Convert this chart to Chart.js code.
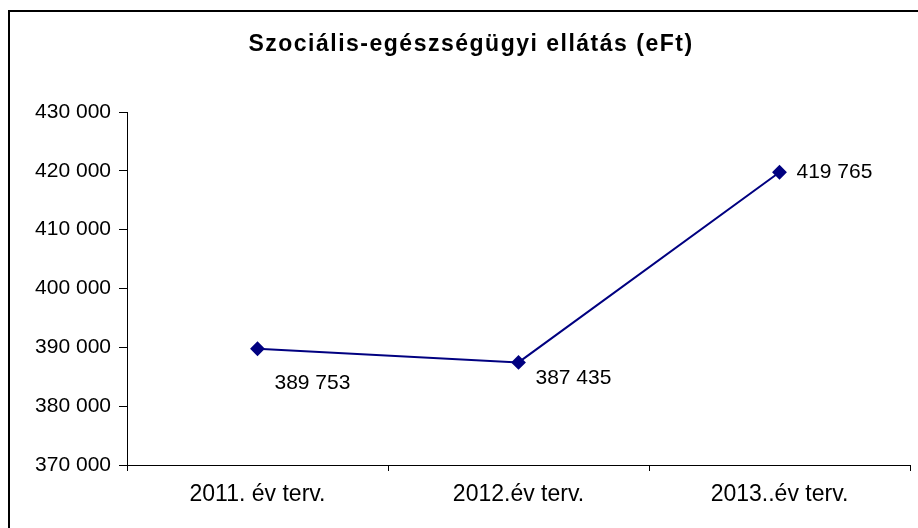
<!DOCTYPE html>
<html>
<head>
<meta charset="utf-8">
<script src="https://cdn.jsdelivr.net/npm/chart.js@4.4.0/dist/chart.umd.min.js"></script>
<style>
  html, body { margin: 0; padding: 0; background: #fff; }
  #wrap { position: relative; width: 918px; height: 528px; }
</style>
</head>
<body>
<div id="wrap"><canvas id="chart" width="918" height="528"></canvas></div>
<script>
// chart data
const titleText = 'Szociális-egészségügyi ellátás (eFt)';
const categories = ['2011. év terv.', '2012.év terv.', '2013..év terv.'];
const values = [389753, 387435, 419765];
const yMin = 370000, yMax = 430000, yStep = 10000;

const navy = '#000080';
const fontFam = '"Liberation Sans", Arial, sans-serif';

function fmt(n) {
  return String(n).replace(/\B(?=(\d{3})+(?!\d))/g, ' ');
}

// frame + title drawn by hand (Excel style)
const framePlugin = {
  id: 'frame',
  beforeDraw(chart) {
    const c = chart.ctx;
    c.save();
    c.fillStyle = '#fff';
    c.fillRect(0, 0, chart.width, chart.height);
    c.strokeStyle = '#000';
    c.lineWidth = 2;
    c.strokeRect(9, 11, chart.width + 20, chart.height + 20);
    c.fillStyle = '#000';
    c.font = 'bold 23px ' + fontFam;
    c.textAlign = 'center';
    c.textBaseline = 'middle';
    if ('letterSpacing' in c) c.letterSpacing = '1.5px';
    c.fillText(titleText, 471, 45);
    c.restore();
  }
};

// value labels, placed like the original
const labelOffsets = [[17, 34], [17, 16], [17, 0]];
const valueLabels = {
  id: 'valueLabels',
  afterDatasetsDraw(chart) {
    const c = chart.ctx;
    const meta = chart.getDatasetMeta(0);
    c.save();
    c.fillStyle = '#000';
    c.font = '21px ' + fontFam;
    c.textAlign = 'left';
    c.textBaseline = 'middle';
    meta.data.forEach((pt, i) => {
      const o = labelOffsets[i];
      c.fillText(fmt(values[i]), pt.x + o[0], pt.y + o[1]);
    });
    c.restore();
  }
};

new Chart(document.getElementById('chart'), {
  type: 'line',
  data: {
    labels: categories,
    datasets: [{
      data: values,
      borderColor: navy,
      backgroundColor: navy,
      borderWidth: 2,
      pointStyle: 'rectRot',
      pointRadius: 6,
      pointHoverRadius: 6,
      tension: 0
    }]
  },
  options: {
    responsive: false,
    animation: false,
    layout: { padding: { top: 112, right: 0, bottom: 20, left: 0 } },
    plugins: {
      legend: { display: false },
      title: { display: false },
      tooltip: { enabled: false }
    },
    scales: {
      x: {
        offset: true,
        grid: { display: true, offset: true, drawOnChartArea: false, drawTicks: true, tickLength: 6, color: '#000' },
        border: { display: true, color: '#000', width: 1 },
        ticks: { color: '#000', font: { family: fontFam, size: 23 }, padding: 10, maxRotation: 0 },
        afterFit(s) { s.height = 43; }
      },
      y: {
        min: yMin,
        max: yMax,
        grid: { display: true, drawOnChartArea: false, drawTicks: true, tickLength: 8, color: '#000' },
        border: { display: true, color: '#000', width: 1 },
        ticks: {
          stepSize: yStep,
          color: '#000',
          font: { family: fontFam, size: 21 },
          padding: 8,
          callback: v => fmt(v)
        },
        afterFit(s) { s.width = 127; }
      }
    }
  },
  plugins: [framePlugin, valueLabels]
});
</script>
</body>
</html>
